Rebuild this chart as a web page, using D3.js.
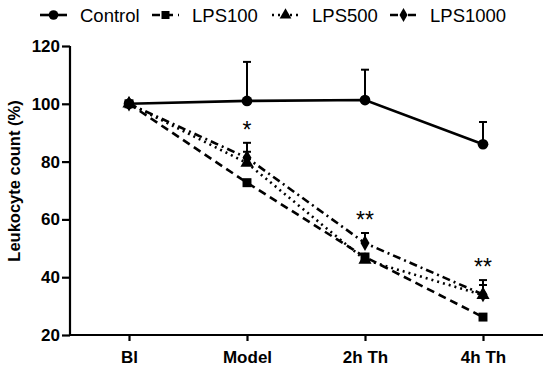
<!DOCTYPE html>
<html lang="en">
<head>
<meta charset="UTF-8">
<title>Leukocyte count</title>
<script src="https://cdn.jsdelivr.net/npm/d3@7"></script>
<style>
  body { margin: 0; background: #fff; }
  svg { display: block; font-family: "Liberation Sans", Arial, sans-serif; }
</style>
</head>
<body>
<svg id="chart" width="550" height="369"></svg>
<script>
// data
var categories = ["Bl", "Model", "2h Th", "4h Th"];
var seriesNames = ["Control", "LPS100", "LPS500", "LPS1000"];
var control = [100, 101, 101.3, 86];
var controlErr = [0, 13.5, 10.5, 7.7];
var lps100 = [100, 72.7, 47, 26.2];
var lps100Err = [0, 1, 1, 0];
var lps500 = [100, 79.5, 46, 33.8];
var lps500Err = [0, 3.9, 2, 3.5];
var lps1000 = [100, 81.3, 51.8, 34];
var lps1000Err = [0, 5.2, 3.5, 5];
var yTicks = [20, 40, 60, 80, 100, 120];
var stars = ["", "*", "**", "**"];
var starY = [0, 86.5, 55.3, 39];

var svg = d3.select("#chart");
var x = d3.scalePoint().domain(categories).range([70, 542]).padding(0.5);
var y = d3.scaleLinear().domain([20, 120]).range([335, 46]);

var series = [
  {name: seriesNames[0], vals: control, err: controlErr, dash: null, sym: d3.symbolCircle, size: 90},
  {name: seriesNames[1], vals: lps100, err: lps100Err, dash: "8,5", sym: d3.symbolSquare, size: 80},
  {name: seriesNames[2], vals: lps500, err: lps500Err, dash: "2,4", sym: d3.symbolTriangle, size: 75},
  {name: seriesNames[3], vals: lps1000, err: lps1000Err, dash: "8,4,2,4", sym: d3.symbolDiamond, size: 70}
];

// axes
var yAxis = svg.append("g")
    .attr("transform", "translate(70,0)")
    .call(d3.axisLeft(y).tickValues(yTicks).tickSize(8).tickPadding(2));
var xAxis = svg.append("g")
    .attr("transform", "translate(0,335)")
    .call(d3.axisBottom(x).tickSize(6).tickPadding(6));
xAxis.select(".domain").attr("d", "M70,0H543");
yAxis.select(".domain").attr("d", "M0,335V46");
[xAxis, yAxis].forEach(function(a){
  a.selectAll(".domain, .tick line").attr("stroke", "#000").attr("stroke-width", 2.2);
  a.selectAll("text").attr("fill", "#000").attr("font-weight", "bold").attr("font-size", 17)
    .attr("font-family", "'Liberation Sans', Arial, sans-serif");
});
xAxis.selectAll("text").attr("dy", "0.95em");

svg.append("text")
    .attr("transform", "translate(20,181) rotate(-90)")
    .attr("text-anchor", "middle")
    .attr("font-size", 16.5)
    .attr("font-weight", "bold")
    .text("Leukocyte count (%)");

var line = d3.line().x(function(d, i){ return x(categories[i]); }).y(function(d){ return y(d); });

// lines in back, markers and error bars on top
series.slice().reverse().forEach(function(s){
  svg.append("path")
      .attr("d", line(s.vals))
      .attr("fill", "none")
      .attr("stroke", "#000")
      .attr("stroke-width", 2.6)
      .attr("stroke-dasharray", s.dash);
});

series.forEach(function(s){
  var g = svg.append("g");
  s.vals.forEach(function(v, i){
    if (s.err[i] > 0) {
      var cx = x(categories[i]);
      g.append("line").attr("x1", cx).attr("x2", cx).attr("y1", y(v)).attr("y2", y(v + s.err[i]))
        .attr("stroke", "#000").attr("stroke-width", 2);
      g.append("line").attr("x1", cx - 4).attr("x2", cx + 4).attr("y1", y(v + s.err[i])).attr("y2", y(v + s.err[i]))
        .attr("stroke", "#000").attr("stroke-width", 2);
    }
  });
  g.selectAll("path.m").data(s.vals).enter().append("path")
      .attr("class", "m")
      .attr("transform", function(d, i){ return "translate(" + x(categories[i]) + "," + y(d) + ")"; })
      .attr("d", d3.symbol().type(s.sym).size(s.size))
      .attr("fill", "#000");
});

// significance marks
stars.forEach(function(t, i){
  if (!t) return;
  svg.append("text")
      .attr("x", x(categories[i]))
      .attr("y", y(starY[i]) - 5)
      .attr("text-anchor", "middle")
      .attr("font-size", 23)
      .text(t);
});

// legend
var legendX = [40, 152, 272, 390];
series.forEach(function(s, i){
  var g = svg.append("g").attr("transform", "translate(" + legendX[i] + ",15)");
  g.append("line").attr("x1", 0).attr("x2", 27).attr("y1", 0).attr("y2", 0)
      .attr("stroke", "#000").attr("stroke-width", 2.6).attr("stroke-dasharray", s.dash);
  g.append("path").attr("transform", "translate(13.5,0)")
      .attr("d", d3.symbol().type(s.sym).size(s.size * 0.8)).attr("fill", "#000");
  g.append("text").attr("x", 40).attr("y", 7).attr("font-size", 18.5).text(s.name);
});
</script>
</body>
</html>
